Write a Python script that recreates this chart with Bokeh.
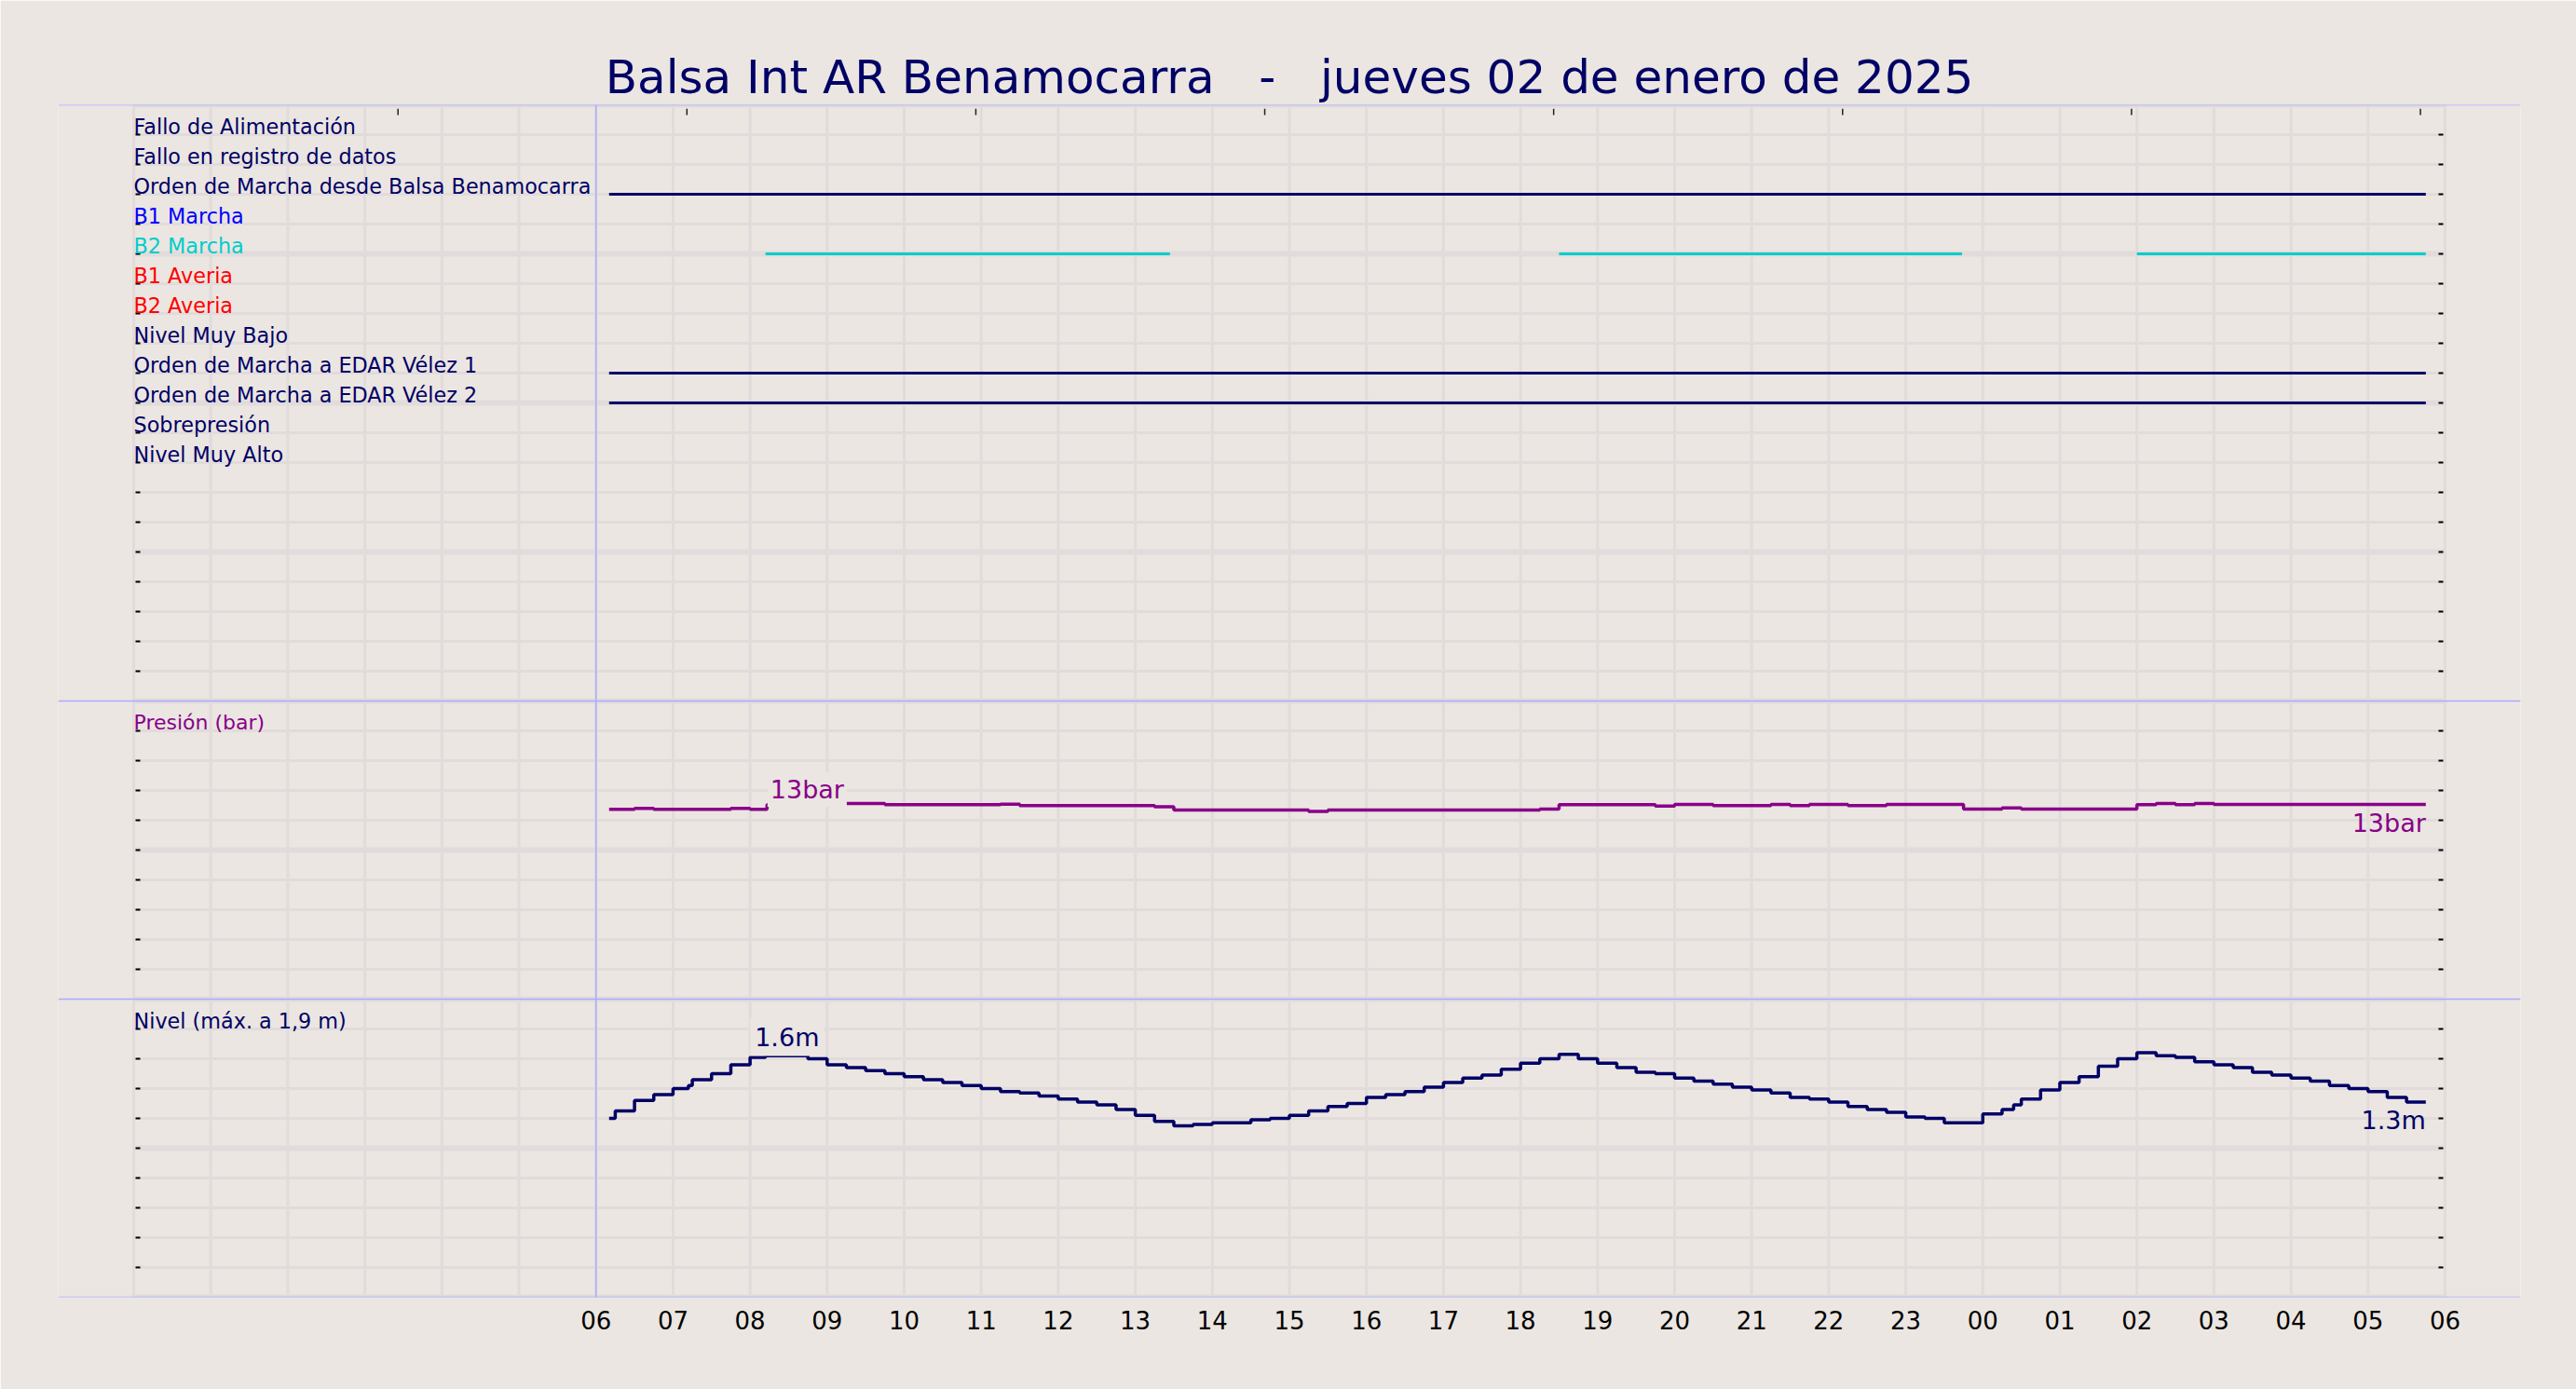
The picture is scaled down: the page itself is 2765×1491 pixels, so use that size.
import math
from bokeh.plotting import figure
from bokeh.models import Range1d, LinearAxis, FixedTicker, Span, Label
from bokeh.embed import file_html
from bokeh.resources import INLINE
from bokeh.core.properties import value

# ---------------- data ----------------
NB = "\u00a0"
title_text = "Balsa Int AR Benamocarra " + NB * 2 + "-" + NB * 2 + " jueves 02 de enero de 2025"

signal_names = [
    "Fallo de Alimentación", "Fallo en registro de datos",
    "Orden de Marcha desde Balsa Benamocarra", "B1 Marcha", "B2 Marcha",
    "B1 Averia", "B2 Averia", "Nivel Muy Bajo",
    "Orden de Marcha a EDAR Vélez 1", "Orden de Marcha a EDAR Vélez 2",
    "Sobrepresión", "Nivel Muy Alto",
]
signal_colors = ["#000066", "#000066", "#000066", "#0000FF", "#00CCCC", "#FF0000",
                 "#FF0000", "#000066", "#000066", "#000066", "#000066", "#000066"]

# on-intervals (hours counted from 00:00 of the first day)
orden_balsa_on = [(6.17, 29.75)]
b2_marcha_on = [(8.2, 13.45), (18.5, 23.73), (26.0, 29.75)]
edar1_on = [(6.17, 29.75)]
edar2_on = [(6.17, 29.75)]

press_t = [6.17, 6.5, 6.75, 7.75, 8.0, 8.22, 8.5, 9.25, 9.75, 11.25, 11.5, 13.25, 13.5,
           15.25, 15.5, 18.25, 18.5, 19.75, 20.0, 20.5, 21.25, 21.5, 21.75, 22.25, 22.75,
           23.75, 24.25, 24.5, 26.0, 26.25, 26.5, 26.75, 27.0, 29.75]
press_v = [12.73, 12.79, 12.73, 12.79, 12.73, 13.04, 13.10, 13.12, 13.04, 13.08, 12.98,
           12.90, 12.69, 12.60, 12.69, 12.75, 13.04, 12.96, 13.06, 12.98, 13.06, 12.98,
           13.06, 12.98, 13.06, 12.75, 12.83, 12.75, 13.04, 13.12, 13.04, 13.12, 13.06, 13.06]

level_t = [6.17, 6.25, 6.5, 6.75, 7.0, 7.2, 7.25, 7.5, 7.75, 8.0, 8.2, 8.25, 8.5, 8.75,
           9.0, 9.25, 9.5, 9.75, 10.0, 10.25, 10.5, 10.75, 11.0, 11.25, 11.5, 11.75,
           12.0, 12.25, 12.5, 12.75, 13.0, 13.25, 13.5, 13.75, 14.0, 14.25, 14.5, 14.75,
           15.0, 15.25, 15.5, 15.75, 16.0, 16.25, 16.5, 16.75, 17.0, 17.25, 17.5, 17.75,
           18.0, 18.25, 18.5, 18.75, 19.0, 19.25, 19.5, 19.75, 20.0, 20.25, 20.5, 20.75,
           21.0, 21.25, 21.5, 21.75, 22.0, 22.25, 22.5, 22.75, 23.0, 23.25, 23.5, 23.75,
           24.0, 24.25, 24.4, 24.5, 24.75, 25.0, 25.25, 25.5, 25.75, 26.0, 26.25, 26.5,
           26.75, 27.0, 27.25, 27.5, 27.75, 28.0, 28.25, 28.5, 28.75, 29.0, 29.25, 29.5, 29.75]
level_v = [1.20, 1.25, 1.32, 1.36, 1.40, 1.42, 1.46, 1.50, 1.56, 1.61, 1.62, 1.62, 1.62,
           1.60, 1.56, 1.54, 1.52, 1.50, 1.48, 1.46, 1.44, 1.42, 1.40, 1.38, 1.37, 1.35,
           1.33, 1.31, 1.29, 1.26, 1.22, 1.18, 1.15, 1.16, 1.17, 1.17, 1.19, 1.20, 1.22,
           1.25, 1.28, 1.30, 1.34, 1.36, 1.38, 1.41, 1.44, 1.47, 1.49, 1.53, 1.57, 1.60,
           1.63, 1.60, 1.57, 1.54, 1.51, 1.50, 1.47, 1.45, 1.43, 1.41, 1.39, 1.37, 1.34,
           1.33, 1.31, 1.28, 1.26, 1.24, 1.21, 1.20, 1.17, 1.17, 1.23, 1.26, 1.29, 1.33,
           1.39, 1.44, 1.48, 1.55, 1.60, 1.64, 1.62, 1.61, 1.58, 1.56, 1.54, 1.51, 1.49,
           1.47, 1.45, 1.42, 1.40, 1.38, 1.34, 1.31, 1.31]

tick_hours = list(range(6, 31))
tick_labels = ["06", "07", "08", "09", "10", "11", "12", "13", "14", "15", "16", "17",
               "18", "19", "20", "21", "22", "23", "00", "01", "02", "03", "04", "05", "06"]
top_tick_hours = [3.43, 7.18, 10.93, 14.68, 18.43, 22.18, 25.93, 29.68]

press_label_t = 8.25
level_label_t = 8.48

# ---------------- style ----------------
BG = "#EBE6E1"
GRID = "#E1DCDB"
SEP = "#AAAAFF"
NAVY = "#000066"
CYAN = "#00CCCC"
PURPLE = "#880088"
FONT = "DejaVu Sans"
N_ROWS = 40
PX_PER_HOUR = 82.7

p = figure(width=2765, height=1491,
           x_range=Range1d(-0.98, 30.98), y_range=Range1d(N_ROWS, 0),
           x_axis_type=None, y_axis_type=None,
           output_backend="svg", toolbar_location=None,
           min_border_left=62, min_border_right=60, min_border_top=112, min_border_bottom=99,
           background_fill_color=BG, border_fill_color=BG, outline_line_color=None)
p.extra_y_ranges = {"press": Range1d(-20, 60), "level": Range1d(0, 8)}

p.title.text = title_text
p.title.align = "center"
p.title.text_font = FONT
p.title.text_font_size = "50px"
p.title.text_font_style = "normal"
p.title.text_color = NAVY
p.title.standoff = 2

# grid lines (hours 0..30, rows 0..40)
hrs = list(range(0, 31))
p.segment(x0=hrs, x1=hrs, y0=[0] * len(hrs), y1=[N_ROWS] * len(hrs),
          line_color=GRID, line_width=3)
thin_rows = [r for r in range(0, N_ROWS + 1) if r % 5 != 0]
thick_rows = [r for r in range(0, N_ROWS + 1) if r % 5 == 0]
p.segment(x0=[0] * len(thin_rows), x1=[30] * len(thin_rows), y0=thin_rows, y1=thin_rows,
          line_color=GRID, line_width=3)
p.segment(x0=[0] * len(thick_rows), x1=[30] * len(thick_rows), y0=thick_rows, y1=thick_rows,
          line_color=GRID, line_width=6)

# small tick dashes
tick_rows = [r for r in range(1, N_ROWS) if r not in (20, 30)]
p.scatter(x=[4.5 / PX_PER_HOUR] * len(tick_rows), y=tick_rows, marker="dash", size=5,
          line_color="black", line_width=2)
p.scatter(x=[30 - 4.5 / PX_PER_HOUR] * len(tick_rows), y=tick_rows, marker="dash", size=5,
          line_color="black", line_width=2)
p.segment(x0=top_tick_hours, x1=top_tick_hours, y0=[0.13] * len(top_tick_hours),
          y1=[0.34] * len(top_tick_hours), line_color="#222222", line_width=1.5)

# separators
for r in (0, 20, 30, 40):
    p.add_layout(Span(location=r, dimension="width", line_color=SEP, line_width=1.5))
p.add_layout(Span(location=6, dimension="height", line_color=SEP, line_width=1.5))

# signal lines
def add_signal(intervals, row, color):
    p.segment(x0=[a for a, b in intervals], x1=[b for a, b in intervals],
              y0=[row] * len(intervals), y1=[row] * len(intervals),
              line_color=color, line_width=3)

add_signal(orden_balsa_on, 3, NAVY)
add_signal(b2_marcha_on, 5, CYAN)
add_signal(edar1_on, 9, NAVY)
add_signal(edar2_on, 10, NAVY)

# signal names
TXT_DY = -9
rows = list(range(1, len(signal_names) + 1))
p.text(x=[0] * len(rows), y=rows, text=signal_names, text_color=signal_colors,
       text_font=value(FONT), text_font_size="22.3px", text_baseline="alphabetic",
       text_align="left", y_offset=TXT_DY)

p.text(x=[0], y=[18], text=["Presión (bar)"], y_range_name="press", text_color=PURPLE,
       text_font=value(FONT), text_font_size="22px", text_baseline="alphabetic",
       y_offset=TXT_DY)
p.text(x=[0], y=[1.8], text=["Nivel (máx. a 1,9 m)"], y_range_name="level", text_color=NAVY,
       text_font=value(FONT), text_font_size="22.3px", text_baseline="alphabetic",
       y_offset=TXT_DY)

def step_xy(t, v):
    xs, ys = [], []
    for i in range(len(t) - 1):
        xs += [t[i], t[i + 1]]
        ys += [v[i], v[i]]
    return xs, ys

px, py = step_xy(press_t, press_v)
p.line(px, py, y_range_name="press", line_color=PURPLE, line_width=3.5)
lx, ly = step_xy(level_t, level_v)
p.line(lx, ly, y_range_name="level", line_color=NAVY, line_width=3.5)

# value labels
p.add_layout(Label(x=press_label_t, y=max(press_v), y_range_name="press",
                   text=f"{max(press_v):.0f}bar", text_align="left", text_baseline="alphabetic",
                   x_offset=-2, y_offset=15, text_color=PURPLE, text_font=FONT,
                   text_font_size="27px", background_fill_color=BG, padding=3))
p.add_layout(Label(x=press_t[-1], y=press_v[-1], y_range_name="press",
                   text=f"{press_v[-1]:.0f}bar", text_align="right", text_baseline="alphabetic",
                   y_offset=-20, text_color=PURPLE, text_font=FONT, text_font_size="27px"))
p.add_layout(Label(x=level_label_t, y=max(level_v), y_range_name="level",
                   text=f"{max(level_v):.1f}m", text_align="center", text_baseline="alphabetic",
                   y_offset=17, text_color=NAVY, text_font=FONT, text_font_size="27px",
                   background_fill_color=BG, padding=5))
p.add_layout(Label(x=level_t[-1], y=level_v[-1], y_range_name="level",
                   text=f"{level_v[-1]:.1f}m", text_align="right", text_baseline="alphabetic",
                   y_offset=-20, text_color=NAVY, text_font=FONT, text_font_size="27px"))

# hour axis
xaxis = LinearAxis(ticker=FixedTicker(ticks=tick_hours),
                   major_label_overrides={h: lab for h, lab in zip(tick_hours, tick_labels)},
                   axis_line_color=None, major_tick_line_color=None, minor_tick_line_color=None,
                   major_label_text_font=FONT, major_label_text_font_size="26px",
                   major_label_text_color="black", major_label_standoff=8)
p.add_layout(xaxis, "below")

open("out.html", "w").write(file_html(p, INLINE))
